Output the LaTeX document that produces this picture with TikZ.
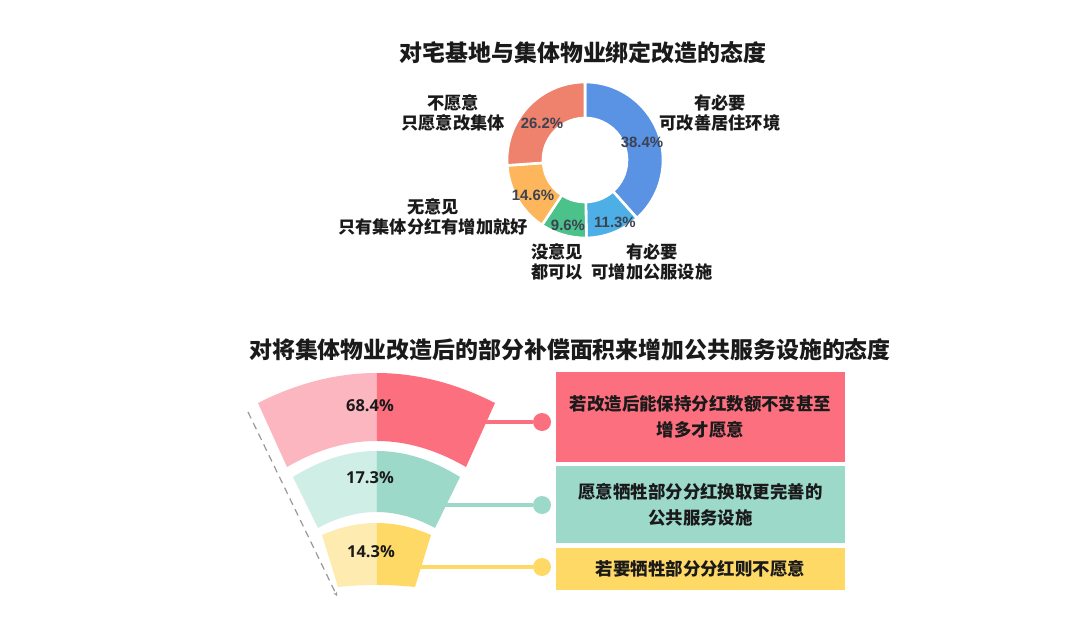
\documentclass[tikz,border=0pt]{standalone}
\usepackage{fontspec}
\setmainfont{Noto Sans CJK SC}
\newfontfamily\pctfont{Liberation Sans}
\newfontfamily\funfont{Open Sans}
\usetikzlibrary{arrows.meta,calc}
\definecolor{dblue}{HTML}{5B93E4}
\definecolor{dlblue}{HTML}{4DAFE6}
\definecolor{dgreen}{HTML}{4BC28A}
\definecolor{dorange}{HTML}{FDB65B}
\definecolor{dsalmon}{HTML}{EE826C}
\definecolor{pinkL}{HTML}{FBB6C0}
\definecolor{redD}{HTML}{FC6F7E}
\definecolor{tealL}{HTML}{CFEEE5}
\definecolor{tealD}{HTML}{9DD9C9}
\definecolor{yelL}{HTML}{FEEBB0}
\definecolor{yelD}{HTML}{FFD966}
\definecolor{pcttext}{HTML}{3C4250}
\definecolor{txt}{HTML}{1A1A1A}
\newcommand\bandone{(258,403) .. controls (337,363) and (416,363) .. (495,403) -- (466,467) .. controls (406.3,432.3) and (346.7,432.3) .. (287,467) -- cycle}
\newcommand\bandtwo{(293,477) .. controls (348.7,442.3) and (404.3,442.3) .. (460,477) -- (435,528) .. controls (396,506.7) and (357,506.7) .. (318,528) -- cycle}
\newcommand\bandthree{(322,535) .. controls (358.3,519) and (394.7,519) .. (431,535) -- (415,587) .. controls (389.3,584.3) and (363.7,584.3) .. (338,587) -- cycle}
\begin{document}
\begin{tikzpicture}[x=1bp,y=-1bp,
  titletext/.style={font=\fontsize{23}{27}\selectfont\bfseries, text=txt, inner sep=0},
  lbltext/.style={font=\fontsize{17.3}{19.5}\selectfont\bfseries, text=txt, align=center, inner sep=0},
  pcttxt/.style={font=\pctfont\fontsize{15}{17}\selectfont\bfseries, text=pcttext, inner sep=0},
  funpct/.style={font=\funfont\fontsize{16.5}{19}\selectfont\bfseries, text=txt, inner sep=0},
  boxnode/.style={minimum width=289bp, inner sep=0, align=center, text=txt,
     font=\fontsize{17.5}{26}\selectfont\bfseries},
  conn/.style={line width=3.5bp},
  dotnode/.style={circle, inner sep=0, minimum size=18bp}]
\useasboundingbox[fill=white] (0,0) rectangle (1080,641);

% ---------- Title 1 ----------
\node[titletext] (t1) at (583,53) {对宅基地与集体物业绑定改造的态度};

% ---------- Donut ----------
\coordinate (dc) at (585,160);
\foreach \a/\b/\c in {-90/48.24/dblue, 48.24/88.92/dlblue, 88.92/123.48/dgreen, 123.48/176.04/dorange, 176.04/270/dsalmon}
  \filldraw[fill=\c, draw=white, line width=2.6bp]
    ($(dc)+(\a:78)$) arc[start angle=\a, end angle=\b, radius=78]
    -- ($(dc)+(\b:42)$) arc[start angle=\b, end angle=\a, radius=42] -- cycle;

\node[pcttxt] (p1) at (642,142) {38.4\%};
\node[pcttxt] (p2) at (615,222) {11.3\%};
\node[pcttxt] (p3) at (568,225) {9.6\%};
\node[pcttxt] (p4) at (533,195) {14.6\%};
\node[pcttxt] (p5) at (542,123) {26.2\%};

\node[lbltext] (l1) at (720,113) {有必要\\可改善居住环境};
\node[lbltext] (l2) at (453,113) {不愿意\\只愿意改集体};
\node[lbltext] (l3) at (433,217) {无意见\\只有集体分红有增加就好};
\node[lbltext] (l4) at (557,262) {没意见\\都可以};
\node[lbltext] (l5) at (652,262) {有必要\\可增加公服设施};

% ---------- Title 2 ----------
\node[titletext] (t2) at (570,350) {对将集体物业改造后的部分补偿面积来增加公共服务设施的态度};

% ---------- connectors ----------
\coordinate (s1) at (470,422);
\coordinate (s2) at (440,505);
\coordinate (s3) at (415,567);
\node[dotnode, fill=redD] (c1) at (542,422) {};
\node[dotnode, fill=tealD] (c2) at (542,505) {};
\node[dotnode, fill=yelD] (c3) at (542,567) {};
\draw[conn, redD] (s1) -- (c1);
\draw[conn, tealD] (s2) -- (c2);
\draw[conn, yelD] (s3) -- (c3);

% ---------- Funnel ----------
\begin{scope}
  \clip (0,0) rectangle (376.5,641);
  \fill[pinkL] \bandone;
  \fill[tealL] \bandtwo;
  \fill[yelL] \bandthree;
\end{scope}
\begin{scope}
  \clip (376.5,0) rectangle (1080,641);
  \fill[redD] \bandone;
  \fill[tealD] \bandtwo;
  \fill[yelD] \bandthree;
\end{scope}
\node[funpct] (f1) at (370,406) {68.4\%};
\node[funpct] (f2) at (370,478) {17.3\%};
\node[funpct] (f3) at (371,552) {14.3\%};

\coordinate (d1) at (248,412);
\coordinate (d2) at (337,596);
\draw[color=gray!80, dash pattern=on 7bp off 5bp, line width=1.2bp, -{Stealth[length=4bp,width=4bp]}] (d1) -- (d2);

% ---------- Boxes ----------
\node[boxnode, fill=redD, minimum height=90bp] (b1) at (700.5,417) {若改造后能保持分红数额不变甚至\\增多才愿意};
\node[boxnode, fill=tealD, minimum height=77bp] (b2) at (700.5,504.5) {愿意牺牲部分分红换取更完善的\\公共服务设施};
\node[boxnode, fill=yelD, minimum height=42bp] (b3) at (700.5,569) {若要牺牲部分分红则不愿意};
\end{tikzpicture}
\end{document}
